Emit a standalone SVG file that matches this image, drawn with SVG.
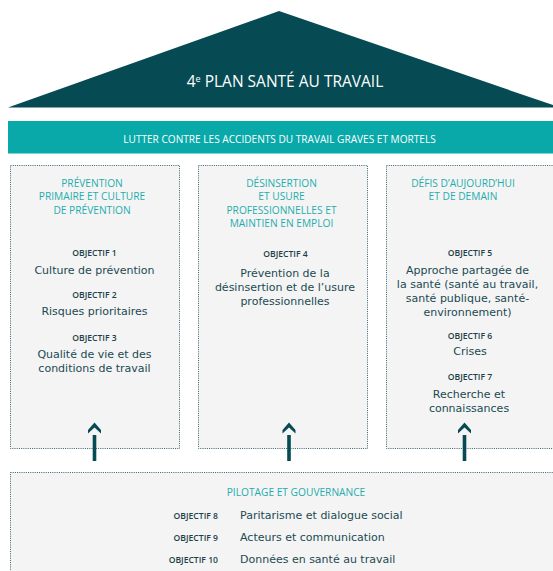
<svg xmlns="http://www.w3.org/2000/svg" width="553" height="571" viewBox="0 0 553 571">
<style>
.hd{font-family:"Open Sans","Liberation Sans",sans-serif;font-size:10.2px;fill:#1fadad;text-anchor:middle}
.ob{font-family:"Open Sans","Liberation Sans",sans-serif;font-size:8.6px;font-weight:600;fill:#1d3f48;text-anchor:middle}
.bd{font-family:"DejaVu Sans","Open Sans",sans-serif;font-size:11px;fill:#1b4a52;text-anchor:middle}
.box{fill:#f4f4f4;stroke:#33636b;stroke-width:1;stroke-dasharray:1 1.2}
.arr{fill:#064b53}
</style>
<rect width="553" height="571" fill="#ffffff"/>
<g id="roof">
<polygon points="8,107.5 279,11 560,107.5" fill="#064b53"/>
<text x="285" y="87" font-family="'Open Sans','Liberation Sans',sans-serif" font-size="15.5" fill="#ffffff" text-anchor="middle">4<tspan font-size="9" dy="-5">e</tspan><tspan dy="5"> PLAN SANTÉ AU TRAVAIL</tspan></text>
</g>
<g id="band">
<rect x="8" y="121" width="545" height="32.5" fill="#0aa9a9"/>
<text x="279.5" y="143" font-family="'Open Sans','Liberation Sans',sans-serif" font-size="10.1" fill="#ffffff" text-anchor="middle">LUTTER CONTRE LES ACCIDENTS DU TRAVAIL GRAVES ET MORTELS</text>
</g>
<g id="col1">
<rect class="box" x="10.5" y="165.5" width="169" height="283"/>
<text class="hd" x="92" y="187">PRÉVENTION</text>
<text class="hd" x="92" y="200.3">PRIMAIRE ET CULTURE</text>
<text class="hd" x="92" y="213.6">DE PRÉVENTION</text>
<text class="ob" x="94.5" y="256">OBJECTIF 1</text>
<text class="bd" x="94.5" y="273.5">Culture de prévention</text>
<text class="ob" x="94.5" y="297.5">OBJECTIF 2</text>
<text class="bd" x="94.5" y="314.5">Risques prioritaires</text>
<text class="ob" x="94.5" y="341">OBJECTIF 3</text>
<text class="bd" x="94.5" y="358">Qualité de vie et des</text>
<text class="bd" x="94.5" y="372.3">conditions de travail</text>
</g>
<g id="col2">
<rect class="box" x="198.5" y="165.5" width="169" height="283"/>
<text class="hd" x="281.5" y="187">DÉSINSERTION</text>
<text class="hd" x="281.5" y="200.3">ET USURE</text>
<text class="hd" x="281.5" y="213.6">PROFESSIONNELLES ET</text>
<text class="hd" x="281.5" y="226.9">MAINTIEN EN EMPLOI</text>
<text class="ob" x="285.5" y="256.7">OBJECTIF 4</text>
<text class="bd" x="285" y="277">Prévention de la</text>
<text class="bd" x="285" y="291">désinsertion et de l’usure</text>
<text class="bd" x="285" y="305">professionnelles</text>
</g>
<g id="col3">
<rect class="box" x="386.5" y="165.5" width="180" height="283"/>
<text class="hd" x="463" y="187">DÉFIS D’AUJOURD’HUI</text>
<text class="hd" x="463" y="200.3">ET DE DEMAIN</text>
<text class="ob" x="470" y="256">OBJECTIF 5</text>
<text class="bd" x="467.5" y="273.5">Approche partagée de</text>
<text class="bd" x="467.5" y="287.6">la santé (santé au travail,</text>
<text class="bd" x="467.5" y="301.7">santé publique, santé-</text>
<text class="bd" x="467.5" y="315.8">environnement)</text>
<text class="ob" x="470" y="338.5">OBJECTIF 6</text>
<text class="bd" x="470" y="355">Crises</text>
<text class="ob" x="470" y="380">OBJECTIF 7</text>
<text class="bd" x="469" y="397.7">Recherche et</text>
<text class="bd" x="469" y="411.5">connaissances</text>
</g>
<g id="bottom">
<rect class="box" x="10.5" y="472.5" width="560" height="120"/>
<text class="hd" x="296" y="495.5">PILOTAGE ET GOUVERNANCE</text>
<text class="ob" x="218" y="519" style="text-anchor:end">OBJECTIF 8</text>
<text class="ob" x="218" y="540.8" style="text-anchor:end">OBJECTIF 9</text>
<text class="ob" x="218" y="563" style="text-anchor:end">OBJECTIF 10</text>
<text class="bd" x="240" y="519" style="text-anchor:start">Paritarisme et dialogue social</text>
<text class="bd" x="240" y="540.8" style="text-anchor:start">Acteurs et communication</text>
<text class="bd" x="240" y="563" style="text-anchor:start">Données en santé au travail</text>
</g>
<g id="connectors">
<defs>
<g id="up">
<polygon class="arr" points="-6.5,430 0,422.5 6.5,430 6.5,433.5 0,427.5 -6.5,433.5"/>
<rect class="arr" x="-1.8" y="435" width="3.6" height="26"/>
</g>
</defs>
<use href="#up" x="94.5"/>
<use href="#up" x="289"/>
<use href="#up" x="464.5"/>
</g>
</svg>
